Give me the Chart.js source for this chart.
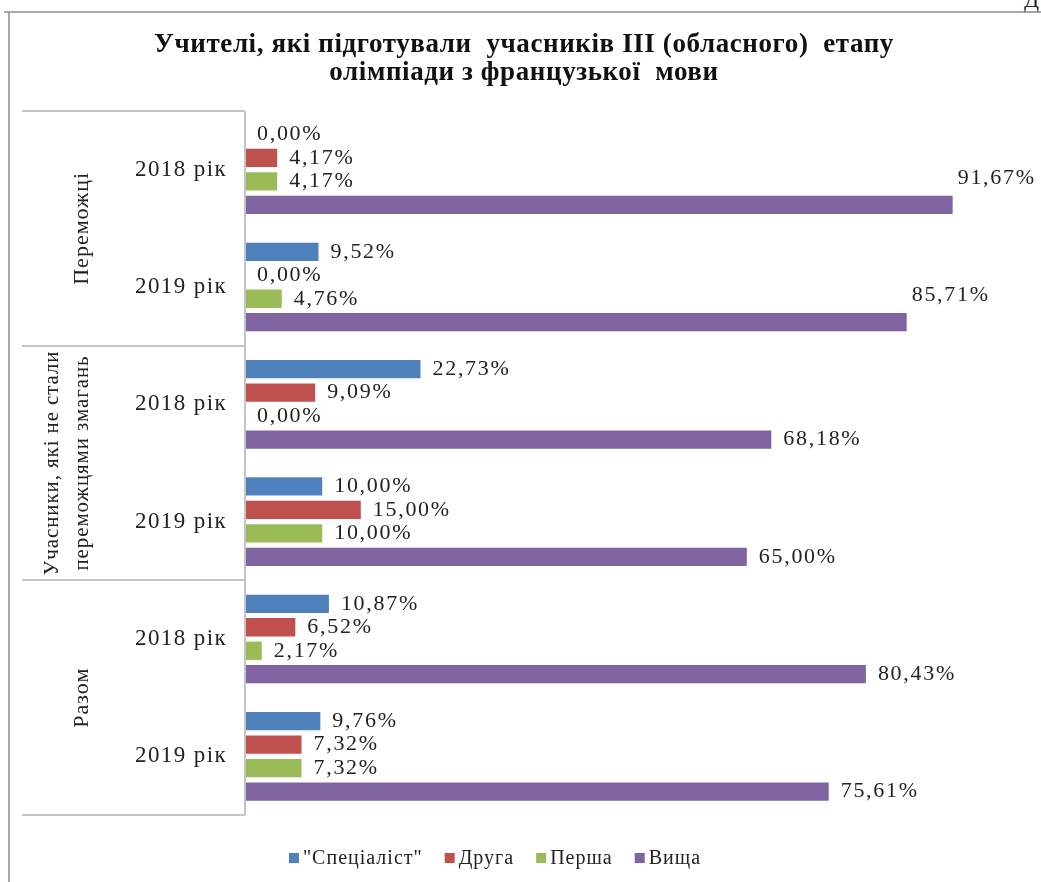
<!DOCTYPE html>
<html lang="uk">
<head>
  <meta charset="UTF-8">
  <title>Учителі, які підготували учасників ІІІ етапу</title>
  <script src="https://cdn.jsdelivr.net/npm/chart.js"></script>
  <style>
    html, body { margin: 0; padding: 0; background: #fff; overflow: hidden; }
    #frame {
      position: absolute; left: 8px; top: 11px; width: 1100px; height: 900px;
      border-top: 2px solid #a9a9a9; border-left: 2px solid #a9a9a9;
    }
    #frame::before {
      content: ""; position: absolute; left: -6px; top: -2px; width: 6px;
      border-top: 2px solid #a9a9a9;
    }
    #corner {
      position: absolute; right: 2px; top: -13px;
      font: 22px "Liberation Serif", serif; color: #222;
    }
    #chart { position: absolute; left: 0; top: 0; }
  </style>
</head>
<body>
  <div id="frame"></div>
  <div id="corner">Д</div>
  <canvas id="chart" width="1041" height="882"></canvas>

<script>
// роки по кожній групі учасників
const categories = ["2018 рік", "2019 рік", "2018 рік", "2019 рік", "2018 рік", "2019 рік"];
const groups = [["Переможці"], ["Учасники, які не стали", "переможцями змагань"], ["Разом"]];
const titleLines = ["Учителі, які підготували  учасників ІІІ (обласного)  етапу", "олімпіади з французької  мови"];

// кваліфікаційні категорії вчителів, %
const seriesNames = ['"Спеціаліст"', "Друга", "Перша", "Вища"];
const specialist = [0.00, 9.52, 22.73, 10.00, 10.87, 9.76];
const druha      = [4.17, 0.00, 9.09, 15.00, 6.52, 7.32];
const persha     = [4.17, 4.76, 0.00, 10.00, 2.17, 7.32];
const vyshcha    = [91.67, 85.71, 68.18, 65.00, 80.43, 75.61];

const colors = ["#4f81bd", "#c0504d", "#9bbb59", "#8064a2"];
const SERIF = '"Liberation Serif", "Times New Roman", serif';
const TEXT = "#222";

function pct(v) {
  return v.toFixed(2).replace(".", ",") + "%";
}

// заголовок, підписи осі, групи, значення і легенда — з розрядкою, як у документі
const decor = {
  id: "decor",
  afterDraw(chart) {
    const ctx = chart.ctx;
    const area = chart.chartArea;
    const y = chart.scales.y;
    const step = (area.bottom - area.top) / categories.length;

    ctx.save();
    ctx.textBaseline = "middle";

    // заголовок
    ctx.fillStyle = "#111";
    ctx.font = "bold 27px " + SERIF;
    ctx.letterSpacing = "0.6px";
    ctx.textAlign = "center";
    titleLines.forEach((t, i) => ctx.fillText(t, 524, 45 + i * 28));

    // лінії між групами і вісь
    ctx.strokeStyle = "#c4c4c4";
    ctx.lineWidth = 2;
    ctx.beginPath();
    for (let g = 0; g <= groups.length; g++) {
      const py = Math.round(area.top + g * 2 * step);
      ctx.moveTo(22, py);
      ctx.lineTo(area.left, py);
    }
    ctx.moveTo(area.left, area.top);
    ctx.lineTo(area.left, area.bottom);
    ctx.stroke();

    // роки
    ctx.fillStyle = TEXT;
    ctx.font = "23px " + SERIF;
    ctx.letterSpacing = "1.4px";
    ctx.textAlign = "right";
    categories.forEach((c, i) => {
      ctx.fillText(c, area.left - 18, y.getPixelForValue(i));
    });

    // назви груп, повернуті
    ctx.textAlign = "center";
    groups.forEach((lines, g) => {
      const cy = (y.getPixelForValue(2 * g) + y.getPixelForValue(2 * g + 1)) / 2;
      lines.forEach((line, j) => {
        const cx = 82 - (lines.length - 1 - j) * 30;
        ctx.font = (lines.length > 1 ? "21px " : "22px ") + SERIF;
        ctx.letterSpacing = lines.length > 1 ? "0.9px" : "1px";
        ctx.save();
        ctx.translate(cx, cy);
        ctx.rotate(-Math.PI / 2);
        ctx.fillText(line, 0, 0);
        ctx.restore();
      });
    });

    // значення біля стовпчиків; ті, що не влазять праворуч, піднято над стовпчиком
    ctx.font = "22px " + SERIF;
    ctx.letterSpacing = "1.7px";
    ctx.textAlign = "left";
    chart.data.datasets.forEach((ds, d) => {
      chart.getDatasetMeta(d).data.forEach((bar, i) => {
        const label = pct(ds.data[i]);
        const w = ctx.measureText(label).width;
        let lx = bar.x + 12;
        let ly = bar.y;
        if (lx + w > area.right - 40) {
          lx = bar.x + 5;
          ly = bar.y - 27;
        }
        ctx.fillText(label, lx, ly);
      });
    });

    // легенда
    ctx.font = "20px " + SERIF;
    ctx.letterSpacing = "1px";
    const box = 10, gap = 4, between = 22;
    const widths = seriesNames.map(n => ctx.measureText(n).width);
    const total = widths.reduce((a, b) => a + b, 0) + seriesNames.length * (box + gap) + between * (seriesNames.length - 1);
    let lx = 495 - total / 2;
    const ly = 858;
    seriesNames.forEach((n, k) => {
      ctx.fillStyle = colors[k];
      ctx.fillRect(lx, ly - box / 2, box, box);
      lx += box + gap;
      ctx.fillStyle = TEXT;
      ctx.fillText(n, lx, ly + 1);
      lx += widths[k] + between;
    });
    ctx.restore();
  }
};

new Chart(document.getElementById("chart"), {
  type: "bar",
  data: {
    labels: categories,
    datasets: [specialist, druha, persha, vyshcha].map((values, k) => ({
      label: seriesNames[k],
      data: values,
      backgroundColor: colors[k],
      categoryPercentage: 0.8,
      barPercentage: 0.78
    }))
  },
  options: {
    indexAxis: "y",
    responsive: false,
    animation: false,
    layout: { padding: { left: 0, right: 24, top: 111, bottom: 67 } },
    plugins: {
      legend: { display: false },
      tooltip: { enabled: false },
      title: { display: false }
    },
    scales: {
      x: { display: false, min: 0, max: 100 },
      y: {
        grid: { display: false },
        border: { display: false },
        ticks: { display: false },
        afterFit(scale) { scale.width = 245; }
      }
    }
  },
  plugins: [decor]
});
</script>
</body>
</html>
